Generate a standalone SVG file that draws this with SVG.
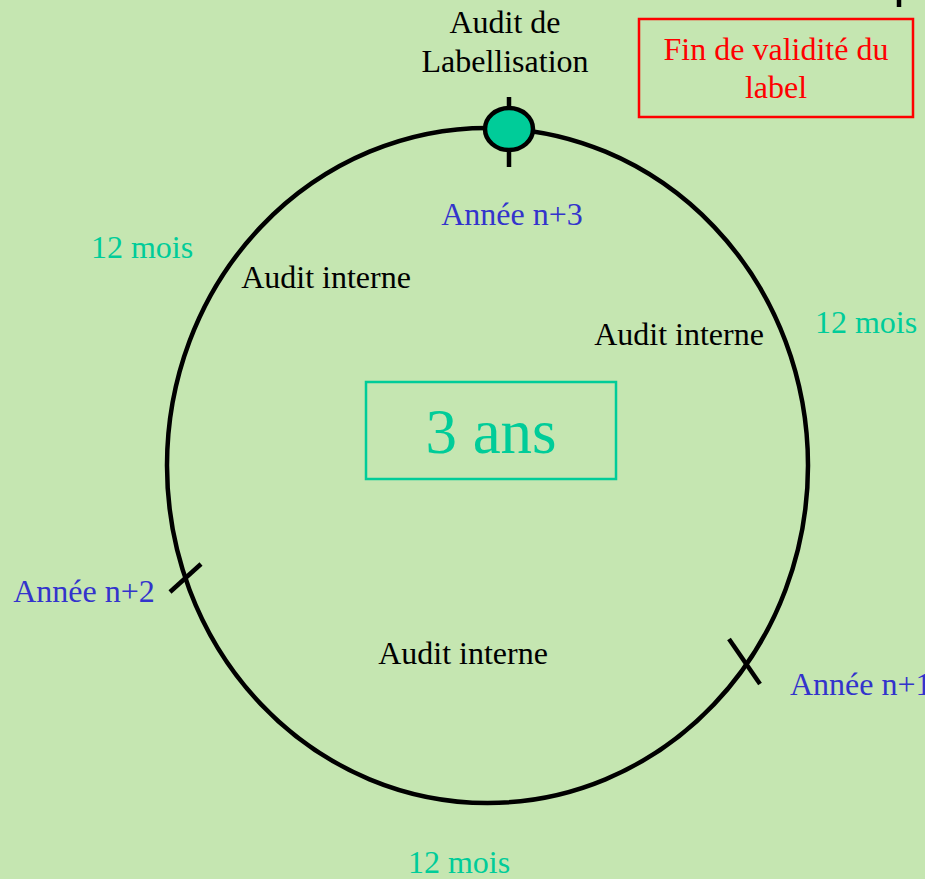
<svg xmlns="http://www.w3.org/2000/svg" width="925" height="879" viewBox="0 0 925 879">
<style>
text{font-family:"Liberation Serif","Times New Roman",serif;font-size:32px;text-anchor:middle}
.blk{fill:#000}
.blue{fill:#3333CC}
.grn{fill:#00CC99}
.red{fill:#FF0000}
.ln{stroke:#000;stroke-width:4.5;fill:none}
</style>
<rect width="925" height="879" fill="#C5E6B1"/>
<g id="cycle">
<ellipse cx="487.5" cy="465.5" rx="320.5" ry="337.5" class="ln"/>
</g>
<g id="connectors">
<line x1="509" y1="97" x2="509" y2="167" class="ln"/>
<line x1="170" y1="592" x2="201" y2="564" class="ln"/>
<line x1="729" y1="639" x2="760" y2="684" class="ln"/>
<line x1="899" y1="0" x2="899" y2="7" class="ln"/>
</g>
<g id="audit-labellisation">
<ellipse cx="509" cy="129" rx="24" ry="21" fill="#00CC99" stroke="#000" stroke-width="4.5"/>
<text x="505" y="33" class="blk">Audit de</text>
<text x="505" y="72" class="blk">Labellisation</text>
</g>
<g id="fin-validite">
<rect x="639" y="19" width="274" height="98" fill="none" stroke="#FF0000" stroke-width="2.5"/>
<text x="776" y="60" class="red">Fin de validité du</text>
<text x="776" y="98" class="red">label</text>
</g>
<g id="trois-ans">
<rect x="366" y="382" width="250" height="97" fill="none" stroke="#00CC99" stroke-width="2.5"/>
<text x="491" y="453" class="grn" style="font-size:63px">3 ans</text>
</g>
<g id="annee-n3"><text x="512" y="225" class="blue">Année n+3</text></g>
<g id="annee-n2"><text x="84" y="602" class="blue">Année n+2</text></g>
<g id="annee-n1"><text x="790" y="695" class="blue" style="text-anchor:start">Année n+1</text></g>
<g id="mois-1"><text x="142" y="258" class="grn">12 mois</text></g>
<g id="mois-2"><text x="866" y="333" class="grn">12 mois</text></g>
<g id="mois-3"><text x="459" y="873" class="grn">12 mois</text></g>
<g id="audit-interne-1"><text x="326" y="288" class="blk">Audit interne</text></g>
<g id="audit-interne-2"><text x="679" y="345" class="blk">Audit interne</text></g>
<g id="audit-interne-3"><text x="463" y="664" class="blk">Audit interne</text></g>
</svg>
